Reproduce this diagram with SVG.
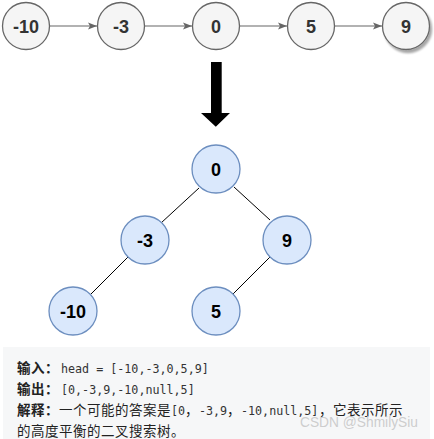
<svg xmlns="http://www.w3.org/2000/svg" width="434" height="439" viewBox="0 0 434 439">
<defs>
<style>
.ln{fill:#f5f5f5;stroke:#666;stroke-width:1.3}
.tr{fill:#dae8fc;stroke:#6c8ebf;stroke-width:1.3}
.lbl{font-family:"Liberation Sans",Arial,sans-serif;font-weight:bold;font-size:18px;text-anchor:middle}
.lt{fill:#333}
.tt{fill:#000}
.con{stroke:#666;stroke-width:1.2;fill:none}
.edge{stroke:#000;stroke-width:1;fill:none}
.cjk{font-family:"Noto Sans CJK SC",sans-serif;font-size:13.5px;letter-spacing:0.5px;fill:#222}
.b{font-weight:bold}
.mono{font-family:"DejaVu Sans Mono","Liberation Mono",monospace;font-size:11.7px;fill:#333}
</style>
<marker id="ah" markerWidth="10" markerHeight="8" refX="9" refY="4" orient="auto" markerUnits="userSpaceOnUse">
<path d="M0,0.5 L9,4 L0,7.5 L2,4 Z" fill="#666"/>
</marker>
<filter id="sh" x="-30%" y="-30%" width="160%" height="160%">
<feGaussianBlur in="SourceAlpha" stdDeviation="1.2"/>
<feOffset dx="2" dy="2.5" result="o"/>
<feComponentTransfer><feFuncA type="linear" slope="0.35"/></feComponentTransfer>
<feMerge><feMergeNode/><feMergeNode in="SourceGraphic"/></feMerge>
</filter>
</defs>
<rect width="434" height="439" fill="#fff"/>
<g id="connectors">
<line class="con" x1="50" y1="26" x2="97" y2="26" marker-end="url(#ah)"/>
<line class="con" x1="145" y1="26" x2="192" y2="26" marker-end="url(#ah)"/>
<line class="con" x1="240" y1="26" x2="287" y2="26" marker-end="url(#ah)"/>
<line class="con" x1="335" y1="26" x2="382" y2="26" marker-end="url(#ah)"/>
<line class="edge" x1="199" y1="188" x2="161" y2="223"/>
<line class="edge" x1="234" y1="187" x2="270" y2="220"/>
<line class="edge" x1="128" y1="257" x2="91" y2="294"/>
<line class="edge" x1="270" y1="257" x2="233" y2="294"/>
</g>
<g id="list-m10"><circle class="ln" cx="26" cy="26" r="23.5"/><text class="lbl lt" x="26" y="32.5">-10</text></g>
<g id="list-m3"><circle class="ln" cx="121" cy="26" r="23.5"/><text class="lbl lt" x="121" y="32.5">-3</text></g>
<g id="list-0"><circle class="ln" cx="216" cy="26" r="23.5"/><text class="lbl lt" x="216" y="32.5">0</text></g>
<g id="list-5"><circle class="ln" cx="311" cy="26" r="23.5"/><text class="lbl lt" x="311" y="32.5">5</text></g>
<g id="list-9"><circle class="ln" cx="406" cy="26" r="23.5" filter="url(#sh)"/><text class="lbl lt" x="406" y="32.5">9</text></g>
<g id="big-arrow"><path d="M211,62 H221.7 V113 H230 L215.8,126.7 L201,113 H211 Z" fill="#000"/></g>
<g id="tree-0"><circle class="tr" cx="216" cy="169" r="24"/><text class="lbl tt" x="216" y="175.5">0</text></g>
<g id="tree-m3"><circle class="tr" cx="145" cy="240" r="24"/><text class="lbl tt" x="145" y="246.5">-3</text></g>
<g id="tree-9"><circle class="tr" cx="287" cy="240" r="24"/><text class="lbl tt" x="287" y="246.5">9</text></g>
<g id="tree-m10"><circle class="tr" cx="73" cy="311" r="24"/><text class="lbl tt" x="73" y="317.5">-10</text></g>
<g id="tree-5"><circle class="tr" cx="216" cy="311" r="24"/><text class="lbl tt" x="216" y="317.5">5</text></g>
<g id="example">
<rect x="3" y="347" width="427" height="92" fill="#f6f7f8"/>
<text y="373"><tspan class="cjk b" x="17">输入：</tspan><tspan class="mono" x="61">head = [-10,-3,0,5,9]</tspan></text>
<text y="394"><tspan class="cjk b" x="17">输出：</tspan><tspan class="mono" x="61">[0,-3,9,-10,null,5]</tspan></text>
<text y="415"><tspan class="cjk b" x="17">解释：</tspan><tspan class="cjk" x="59">一个可能的答案是</tspan><tspan class="mono" x="171">[0</tspan><tspan class="cjk" x="185">，</tspan><tspan class="mono" x="199">-3,9</tspan><tspan class="cjk" x="227">，</tspan><tspan class="mono" x="241">-10,null,5]</tspan><tspan class="cjk" x="319">，它表示所示</tspan></text>
<text x="17" y="436" class="cjk">的高度平衡的二叉搜索树。</text>
<text x="300" y="427" font-family="'Liberation Sans',Arial,sans-serif" font-size="15" fill="#c8c8c8" fill-opacity="0.9" textLength="118" lengthAdjust="spacingAndGlyphs">CSDN @ShmilySiu</text>
</g>
</svg>
